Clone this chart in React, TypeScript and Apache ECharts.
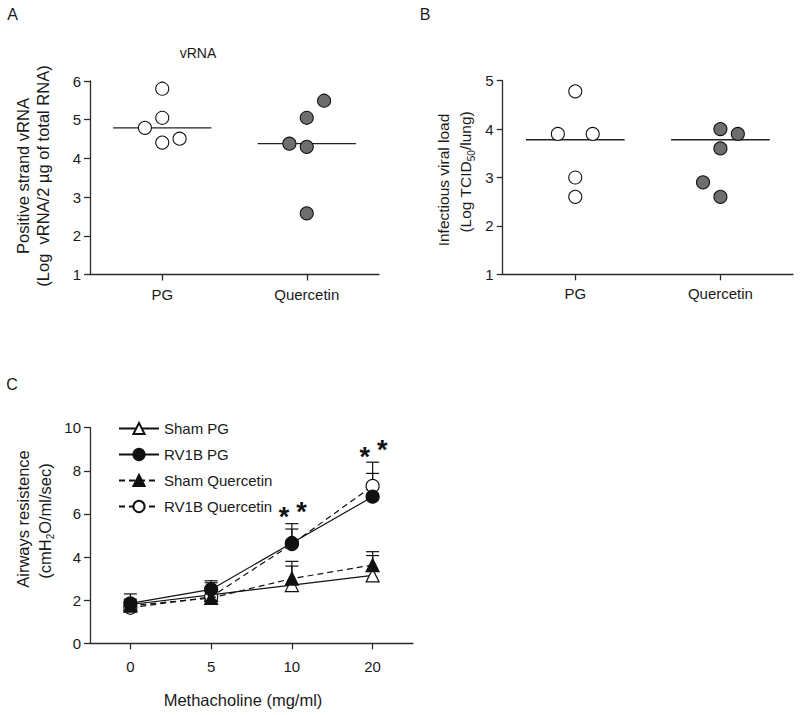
import { useEffect, useRef } from "react";
import * as echarts from "echarts";

// ---------- Data ----------
const groups = ["PG", "Quercetin"];

// Panel A: positive strand vRNA (log)
const vrnaPG = [4.79, 5.8, 5.05, 4.41, 4.51];
const vrnaPGJitter = [-0.12, 0, 0, 0, 0.12];
const vrnaQ = [4.38, 5.05, 4.3, 5.49, 2.58];
const vrnaQJitter = [-0.12, 0, 0, 0.12, 0];
const vrnaMedian = [4.79, 4.38];

// Panel B: infectious viral load (log TCID50/lung)
const loadPG = [3.9, 4.78, 3.9, 3.0, 2.6];
const loadPGJitter = [-0.12, 0, 0.12, 0, 0];
const loadQ = [4.0, 3.9, 3.6, 2.9, 2.6];
const loadQJitter = [0, 0.12, 0, -0.12, 0];
const loadMedian = [3.78, 3.78];

// Panel C: airway resistance vs methacholine
const doses = ["0", "5", "10", "20"];
const shamPG = [1.8, 2.25, 2.7, 3.15];
const shamPGErr = [0.25, 0.35, 0.88, 0.92];
const rvPG = [1.85, 2.5, 4.65, 6.8];
const rvPGErr = [0.44, 0.4, 0.65, 1.08];
const shamQ = [1.75, 2.1, 3.0, 3.63];
const shamQErr = [0.2, 0.3, 0.8, 0.62];
const rvQ = [1.65, 2.15, 4.6, 7.3];
const rvQErr = [0.3, 0.66, 0.95, 1.1];
const starLow = [null, null, 6.1, 8.88];
const starHigh = [null, null, 6.33, 9.19];

const FONT = "'Liberation Sans', Arial, sans-serif";
const INK = "#1a1a1a";
const AXIS = "#2b2b2b";
const GREY = "#6e6e6e";

function App() {
  const ref = useRef<HTMLDivElement>(null);

  useEffect(() => {
    if (!ref.current) return;
    const chart = echarts.init(ref.current, null, { renderer: "svg" });

    const axisCommon = {
      axisLine: { show: true, lineStyle: { color: AXIS, width: 1.3 } },
      axisTick: { show: true, length: 6, lineStyle: { color: AXIS, width: 1.3 } },
      splitLine: { show: false },
    };

    const catX = (grid: number, cats: string[], margin: number) => ({
      type: "category",
      gridIndex: grid,
      data: cats,
      boundaryGap: true,
      ...axisCommon,
      axisTick: { ...axisCommon.axisTick, alignWithLabel: true, interval: 0 },
      axisLabel: { color: INK, fontSize: 15, fontFamily: FONT, margin, interval: 0 },
    });

    const valY = (grid: number, min: number, max: number, interval: number) => ({
      type: "value",
      gridIndex: grid,
      min,
      max,
      interval,
      ...axisCommon,
      axisLabel: { color: INK, fontSize: 15, fontFamily: FONT, margin: 9 },
    });

    const hiddenX = (grid: number) => ({
      type: "value",
      gridIndex: grid,
      min: 0.5,
      max: 2.5,
      show: false,
    });

    const scatter = (
      xAxisIndex: number,
      yAxisIndex: number,
      groupPos: number,
      vals: number[],
      jit: number[],
      fill: string
    ) => ({
      type: "scatter",
      xAxisIndex,
      yAxisIndex,
      symbol: "circle",
      symbolSize: 13,
      z: 3,
      itemStyle: { color: fill, borderColor: "#111", borderWidth: 1.1, opacity: 1 },
      data: vals.map((v, i) => [groupPos + jit[i], v]),
    });

    const median = (xAxisIndex: number, yAxisIndex: number, meds: number[]) => ({
      type: "custom",
      xAxisIndex,
      yAxisIndex,
      z: 2,
      data: meds.map((m, i) => [i + 1, m]),
      renderItem: (_p: any, api: any) => {
        const a = api.coord([api.value(0) - 0.34, api.value(1)]);
        const b = api.coord([api.value(0) + 0.34, api.value(1)]);
        return {
          type: "line",
          shape: { x1: a[0], y1: a[1], x2: b[0], y2: b[1] },
          style: { stroke: "#222", lineWidth: 1.3 },
        };
      },
    });

    const errBars = (vals: number[], errs: number[]) => ({
      type: "custom",
      xAxisIndex: 4,
      yAxisIndex: 2,
      z: 1,
      data: vals.map((v, i) => [i, v, v + errs[i]]),
      renderItem: (_p: any, api: any) => {
        const base = api.coord([api.value(0), api.value(1)]);
        const top = api.coord([api.value(0), api.value(2)]);
        const hw = 6.5;
        const st = { stroke: "#111", lineWidth: 1.2 };
        return {
          type: "group",
          children: [
            { type: "line", shape: { x1: base[0], y1: base[1], x2: top[0], y2: top[1] }, style: st },
            { type: "line", shape: { x1: top[0] - hw, y1: top[1], x2: top[0] + hw, y2: top[1] }, style: st },
          ],
        };
      },
    });

    const lineSeries = (
      name: string,
      vals: number[],
      symbol: string,
      filled: boolean,
      dashed: boolean,
      z: number
    ) => ({
      type: "line",
      name,
      xAxisIndex: 4,
      yAxisIndex: 2,
      data: vals,
      symbol,
      symbolSize: 13,
      showAllSymbol: true,
      z,
      lineStyle: { color: "#111", width: 1.2, type: dashed ? [6, 4] : "solid" },
      itemStyle: { color: filled ? "#111" : "#fff", borderColor: "#111", borderWidth: 1.2 },
    });

    const stars = {
      type: "custom",
      xAxisIndex: 4,
      yAxisIndex: 2,
      z: 6,
      data: doses
        .map((_d, i) => [i, starLow[i], starHigh[i]])
        .filter((d) => d[1] != null),
      renderItem: (_p: any, api: any) => {
        const l = api.coord([api.value(0), api.value(1)]);
        const h = api.coord([api.value(0), api.value(2)]);
        const st = {
          fill: "#111",
          fontSize: 27,
          fontWeight: "bold",
          fontFamily: FONT,
          align: "center",
          verticalAlign: "middle",
        };
        return {
          type: "group",
          children: [
            { type: "text", x: l[0] - 8, y: l[1] + 5, style: { ...st, text: "*" } },
            { type: "text", x: h[0] + 9.5, y: h[1] + 5, style: { ...st, text: "*" } },
          ],
        };
      },
    };

    const vText = (text: string, x: number, y: number, size: number, rich?: any) => ({
      type: "text",
      x,
      y,
      rotation: Math.PI / 2,
      style: {
        text,
        fontSize: size,
        fontFamily: FONT,
        fill: INK,
        align: "center",
        verticalAlign: "middle",
        rich,
      },
    });

    const hText = (text: string, x: number, y: number, size: number) => ({
      type: "text",
      x,
      y,
      style: {
        text,
        fontSize: size,
        fontFamily: FONT,
        fill: INK,
        align: "center",
        verticalAlign: "middle",
      },
    });

    const subRich = (size: number) => ({
      a: { fontSize: size, fontFamily: FONT, fill: INK, lineHeight: 16, verticalAlign: "top" },
      b: { fontSize: 10, fontFamily: FONT, fill: INK, lineHeight: 10, padding: [9, 0, 0, 0], verticalAlign: "top" },
    });

    const option: any = {
      animation: false,
      backgroundColor: "#fff",
      textStyle: { fontFamily: FONT },
      grid: [
        { left: 90, right: 421, top: 81, bottom: 440.5, containLabel: false },
        { left: 502.7, right: 7, top: 80.7, bottom: 440.7, containLabel: false },
        { left: 90, right: 387, top: 427.7, bottom: 71.7, containLabel: false },
      ],
      xAxis: [
        catX(0, groups, 12),
        hiddenX(0),
        catX(1, groups, 12),
        hiddenX(1),
        catX(2, doses, 16),
      ],
      yAxis: [valY(0, 1, 6, 1), valY(1, 1, 5, 1), valY(2, 0, 10, 2)],
      legend: {
        data: ["Sham PG", "RV1B PG", "Sham Quercetin", "RV1B Quercetin"],
        orient: "vertical",
        left: 113,
        top: 416,
        itemWidth: 40,
        itemHeight: 14,
        itemGap: 11,
        textStyle: { fontSize: 15, fontFamily: FONT, color: INK },
        selectedMode: false,
      },
      graphic: [
        hText("A", 12.5, 14.5, 16),
        hText("B", 425, 14, 16),
        hText("C", 12, 384, 16),
        hText("vRNA", 198, 53, 14),
        vText("Positive strand vRNA", 23, 176, 16.5),
        vText("(Log  vRNA/2 µg of total RNA)", 43, 176, 16.5),
        vText("Infectious viral load", 443, 180, 15.5),
        vText("{a|(Log TCID}{b|50}{a|/lung)}", 465, 172, 15.5, subRich(15.5)),
        vText("Airways resistence", 23, 519, 16.5),
        vText("{a|(cmH}{b|2}{a|O/ml/sec)}", 44, 521, 16.5, subRich(16.5)),
        hText("Methacholine (mg/ml)", 243, 700, 16.5),
      ],
      series: [
        median(1, 0, vrnaMedian),
        scatter(1, 0, 1, vrnaPG, vrnaPGJitter, "#fff"),
        scatter(1, 0, 2, vrnaQ, vrnaQJitter, GREY),
        median(3, 1, loadMedian),
        scatter(3, 1, 1, loadPG, loadPGJitter, "#fff"),
        scatter(3, 1, 2, loadQ, loadQJitter, GREY),
        errBars(shamPG, shamPGErr),
        errBars(rvPG, rvPGErr),
        errBars(shamQ, shamQErr),
        errBars(rvQ, rvQErr),
        lineSeries("Sham PG", shamPG, "triangle", false, false, 3),
        lineSeries("RV1B Quercetin", rvQ, "circle", false, true, 3),
        lineSeries("Sham Quercetin", shamQ, "triangle", true, true, 4),
        lineSeries("RV1B PG", rvPG, "circle", true, false, 5),
        stars,
      ],
    };

    chart.setOption(option);
    return () => chart.dispose();
  }, []);

  return (
    <div
      ref={ref}
      style={{ position: "absolute", left: 0, top: 0, width: 800, height: 715, background: "#fff" }}
    />
  );
}

export default App;
